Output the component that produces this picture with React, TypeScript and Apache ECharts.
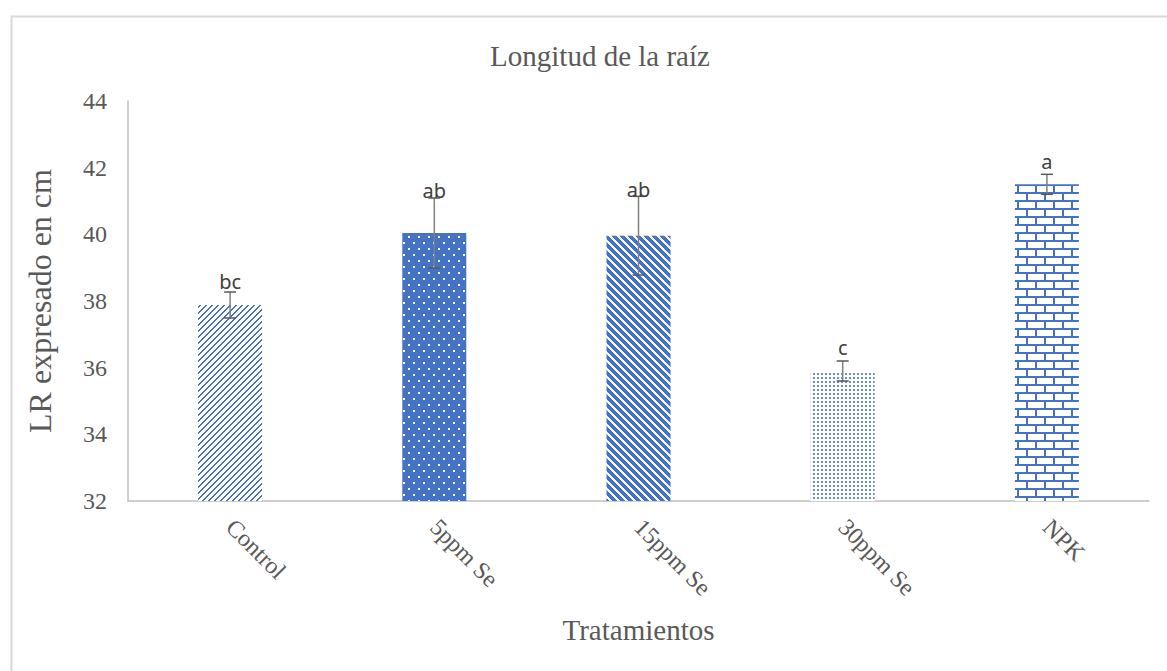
import React, { useEffect, useRef } from "react";
import * as echarts from "echarts";

const categories = ["Control", "5ppm Se", "15ppm Se", "30ppm Se", "NPK"];
const means = [37.88, 40.04, 39.96, 35.9, 41.5];
const errors = [0.39, 1.05, 1.18, 0.3, 0.3];
const letters = ["bc", "ab", "ab", "c", "a"];
const letterPos = [38.59, 41.31, 41.36, 36.6, 42.2];
const yTicks = { min: 32, max: 44, interval: 2 };

const BLUE = "#4472C4";

function makePattern(w: number, h: number, draw: (ctx: CanvasRenderingContext2D) => void) {
  const c = document.createElement("canvas");
  c.width = w;
  c.height = h;
  const ctx = c.getContext("2d")!;
  draw(ctx);
  return { image: c.toDataURL(), repeat: "repeat", imageWidth: w, imageHeight: h } as any;
}

function patterns() {
  // Control: light upward diagonal ///
  const p1 = makePattern(6, 6, (ctx) => {
    ctx.fillStyle = "#fff";
    ctx.fillRect(0, 0, 6, 6);
    ctx.fillStyle = BLUE;
    for (let x = 0; x < 6; x++)
      for (let y = 0; y < 6; y++) if ((x + y) % 6 === 0 || (x + y) % 6 === 1) ctx.fillRect(x, y, 1, 1);
  });
  // 5ppm: solid blue with white dots
  const p2 = makePattern(10, 12, (ctx) => {
    ctx.fillStyle = BLUE;
    ctx.fillRect(0, 0, 10, 12);
    ctx.fillStyle = "#fff";
    ctx.fillRect(3, 2, 2, 2);
    ctx.fillRect(8, 8, 2, 2);
  });
  // 15ppm: wide downward diagonal \\\
  const p3 = makePattern(8, 8, (ctx) => {
    ctx.fillStyle = "#fff";
    ctx.fillRect(0, 0, 8, 8);
    ctx.fillStyle = BLUE;
    for (let x = 0; x < 8; x++)
      for (let y = 0; y < 8; y++) if (((x - y) % 8 + 8) % 8 < 5) ctx.fillRect(x, y, 1, 1);
  });
  // 30ppm: dotted
  const p4 = makePattern(4, 4, (ctx) => {
    ctx.fillStyle = "#fff";
    ctx.fillRect(0, 0, 4, 4);
    ctx.fillStyle = "rgba(68,114,196,0.8)";
    ctx.fillRect(1, 1, 2, 2);
  });
  // NPK: bricks
  const p5 = makePattern(18, 16, (ctx) => {
    ctx.fillStyle = "#fff";
    ctx.fillRect(0, 0, 18, 16);
    ctx.fillStyle = BLUE;
    ctx.fillRect(0, 0, 18, 2);
    ctx.fillRect(0, 8, 18, 2);
    ctx.fillRect(0, 2, 2, 6);
    ctx.fillRect(9, 10, 2, 6);
  });
  return [p1, p2, p3, p4, p5];
}

export default function App() {
  const ref = useRef<HTMLDivElement>(null);
  useEffect(() => {
    if (!ref.current) return;
    const chart = echarts.init(ref.current, undefined, { renderer: "svg" });
    const pats = patterns();
    const serif = "'Liberation Serif', 'Times New Roman', serif";
    chart.setOption({
      animation: false,
      backgroundColor: "#fff",
      title: {
        text: "Longitud de la raíz",
        left: 595,
        top: 36,
        textAlign: "center",
        textStyle: { fontFamily: serif, fontSize: 29, fontWeight: "normal", color: "#595959" },
      },
      graphic: [
        {
          type: "rect",
          left: 9,
          top: 14,
          shape: { x: 0, y: 0, width: 1200, height: 700 },
          style: { fill: "none", stroke: "#d9d9d9", lineWidth: 2 },
          silent: true,
        },
      ],
      grid: { left: 128, top: 101, right: 18, bottom: 170 },
      xAxis: {
        type: "category",
        data: categories,
        axisLine: { lineStyle: { color: "#bfbfbf", width: 1.5 } },
        axisTick: { show: false },
        axisLabel: { rotate: -45, margin: 22, fontFamily: serif, fontSize: 24, color: "#595959" },
        name: "Tratamientos",
        nameLocation: "middle",
        nameGap: 114,
        nameTextStyle: { fontFamily: serif, fontSize: 29, color: "#595959" },
      },
      yAxis: {
        type: "value",
        min: yTicks.min,
        max: yTicks.max,
        interval: yTicks.interval,
        axisLine: { show: true, lineStyle: { color: "#bfbfbf", width: 1.5 } },
        axisTick: { show: false },
        splitLine: { show: false },
        axisLabel: { margin: 21, fontFamily: serif, fontSize: 24, color: "#595959" },
        name: "LR expresado en cm",
        nameLocation: "middle",
        nameGap: 72,
        nameTextStyle: { fontFamily: serif, fontSize: 32, color: "#595959" },
      },
      series: [
        {
          type: "bar",
          barWidth: 64,
          data: means.map((v, i) => ({ value: v, itemStyle: { color: pats[i] } })),
        },
        {
          type: "custom",
          data: means.map((m, i) => [i, m - errors[i], m + errors[i]]),
          encode: { x: 0, y: [1, 2] },
          z: 5,
          renderItem: (params: any, api: any) => {
            const hi = api.coord([api.value(0), api.value(2)]);
            const lo = api.coord([api.value(0), api.value(1)]);
            const hw = 6;
            const st = { stroke: "#595959", lineWidth: 1.5 };
            return {
              type: "group",
              children: [
                { type: "line", shape: { x1: hi[0], y1: hi[1], x2: lo[0], y2: lo[1] }, style: { stroke: "#7f7f7f", lineWidth: 1.5 } },
                { type: "line", shape: { x1: hi[0] - hw, y1: hi[1], x2: hi[0] + hw, y2: hi[1] }, style: st },
                { type: "line", shape: { x1: lo[0] - hw, y1: lo[1], x2: lo[0] + hw, y2: lo[1] }, style: st },
              ],
            };
          },
        },
        {
          type: "custom",
          data: letterPos.map((p, i) => [i, p]),
          encode: { x: 0, y: 1 },
          z: 6,
          renderItem: (params: any, api: any) => {
            const pt = api.coord([api.value(0), api.value(1)]);
            return {
              type: "text",
              style: {
                x: pt[0],
                y: pt[1],
                text: letters[params.dataIndex],
                align: "center",
                verticalAlign: "middle",
                fill: "#404040",
                fontSize: 20,
                fontFamily: "'Noto Sans', 'Open Sans', sans-serif",
              },
            };
          },
        },
      ],
    });
    return () => chart.dispose();
  }, []);
  return <div ref={ref} style={{ position: "absolute", left: 0, top: 0, width: 1167, height: 671 }} />;
}
